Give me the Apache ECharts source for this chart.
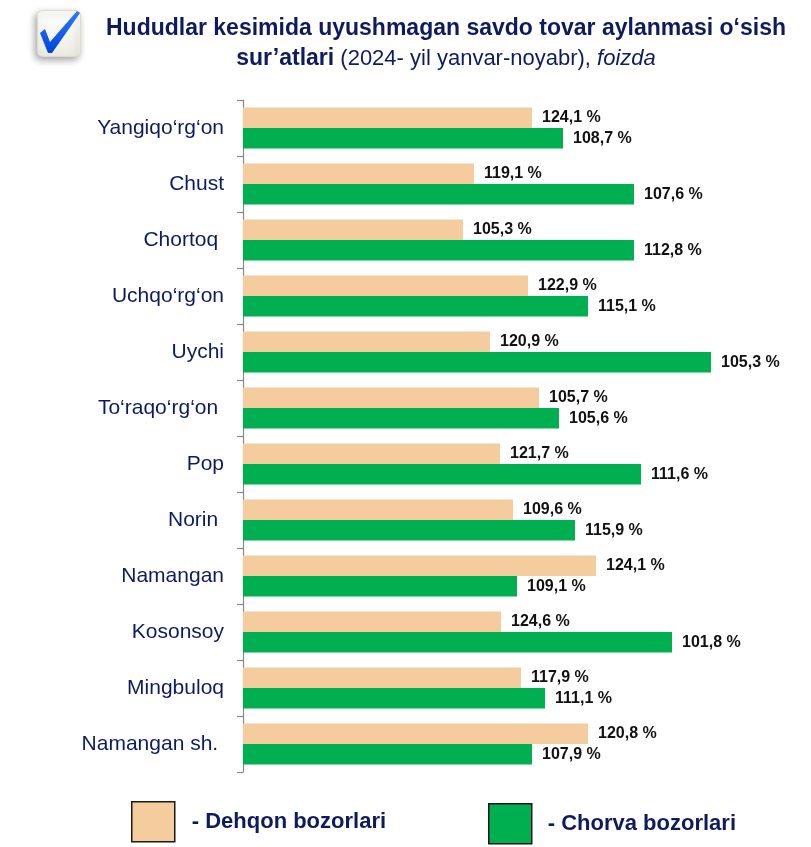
<!DOCTYPE html>
<html>
<head>
<meta charset="utf-8">
<script src="https://cdn.jsdelivr.net/npm/echarts@6/dist/echarts.min.js"></script>
<style>
html,body{margin:0;padding:0;background:#fff;}
#chart{width:811px;height:847px;}
</style>
</head>
<body>
<div id="chart"></div>
<script>
// Categories (top to bottom)
var categories = ['Yangiqo‘rg‘on', 'Chust', 'Chortoq ', 'Uchqo‘rg‘on', 'Uychi', 'To‘raqo‘rg‘on ', 'Pop', 'Norin ', 'Namangan', 'Kosonsoy', 'Mingbuloq', 'Namangan sh. '];
// Bar lengths as drawn in the picture (relative units)
var dehqonBar = [289, 231, 220, 285, 247, 296, 257, 270, 353, 258, 278, 345];
var chorvaBar = [320, 391, 391, 345, 468, 316, 398, 332, 274, 429, 302, 289];
// Growth rates shown as labels, %
var dehqonPct = [124.1, 119.1, 105.3, 122.9, 120.9, 105.7, 121.7, 109.6, 124.1, 124.6, 117.9, 120.8];
var chorvaPct = [108.7, 107.6, 112.8, 115.1, 105.3, 105.6, 111.6, 115.9, 109.1, 101.8, 111.1, 107.9];
var seriesNames = ['Dehqon bozorlari', 'Chorva bozorlari'];

var FONT = '"Liberation Sans", Arial, sans-serif';
var NAVY = '#0E1C5E';
function fmt(v) { return v.toFixed(1).replace('.', ',') + ' %'; }

var chart = echarts.init(document.getElementById('chart'));
chart.setOption({
  animation: false,
  backgroundColor: '#fff',
  title: {
    left: 446, top: 14, textAlign: 'center', padding: 0,
    text: '{b|Hududlar kesimida uyushmagan savdo tovar aylanmasi o‘sish}\n{b|sur’atlari}{n| (2024- yil yanvar-noyabr), }{i|foizda}',
    textStyle: {
      fontWeight: 'normal',
      rich: {
        b: { fontFamily: FONT, fontSize: 23, fontWeight: 'bold', color: NAVY, lineHeight: 30 },
        n: { fontFamily: FONT, fontSize: 22, fontWeight: 'normal', color: NAVY, lineHeight: 30 },
        i: { fontFamily: FONT, fontSize: 22, fontWeight: 'normal', fontStyle: 'italic', color: NAVY, lineHeight: 30 }
      }
    }
  },
  graphic: [
    {
      type: 'rect', left: 37, top: 10,
      shape: { width: 43, height: 46, r: 5 },
      style: {
        fill: new echarts.graphic.LinearGradient(0, 0, 0, 1, [
          { offset: 0, color: '#ffffff' }, { offset: 1, color: '#ececE4' }
        ]),
        stroke: '#deddc8', lineWidth: 1,
        shadowBlur: 7, shadowColor: 'rgba(0,0,0,0.35)', shadowOffsetX: -2, shadowOffsetY: 3
      }
    },
    {
      type: 'polygon',
      shape: { points: [[40, 33], [45, 29], [50, 42], [77, 11], [80, 13], [52, 53], [48, 53]] },
      style: {
        fill: new echarts.graphic.LinearGradient(0, 0, 0, 1, [
          { offset: 0, color: '#2d7bff' }, { offset: 1, color: '#0044d8' }
        ])
      }
    }
  ],
  legend: [
    {
      data: [seriesNames[0]], left: 131, top: 801, padding: 0,
      itemWidth: 43, itemHeight: 40, icon: 'rect',
      itemStyle: { borderColor: '#1a1a1a', borderWidth: 1.5 },
      formatter: '- {name}',
      textStyle: { fontFamily: FONT, fontSize: 22, fontWeight: 'bold', color: NAVY, padding: [0, 0, 0, 12] },
      selectedMode: false
    },
    {
      data: [seriesNames[1]], left: 488, top: 803, padding: 0,
      itemWidth: 43, itemHeight: 40, icon: 'rect',
      itemStyle: { borderColor: '#1a1a1a', borderWidth: 1.5 },
      formatter: '- {name}',
      textStyle: { fontFamily: FONT, fontSize: 22, fontWeight: 'bold', color: NAVY, padding: [0, 0, 0, 11] },
      selectedMode: false
    }
  ],
  grid: { left: 243, right: 28, top: 100, bottom: 75, containLabel: false },
  xAxis: { type: 'value', min: 0, max: 540, show: false },
  yAxis: {
    type: 'category', inverse: true, data: categories,
    axisLine: { show: true, lineStyle: { color: '#888', width: 1.2 } },
    axisTick: { show: true, length: 6, lineStyle: { color: '#888', width: 1.2 } },
    axisLabel: { fontFamily: FONT, fontSize: 21, color: NAVY, margin: 19 },
    splitLine: { show: false }
  },
  series: [
    {
      name: seriesNames[0], type: 'bar', data: dehqonBar,
      barWidth: 20.5, barGap: '0%',
      itemStyle: { color: '#F5CC9D' },
      label: {
        show: true, position: 'right', distance: 10,
        fontFamily: FONT, fontSize: 16, fontWeight: 'bold', color: '#111',
        formatter: function (p) { return fmt(dehqonPct[p.dataIndex]); }
      }
    },
    {
      name: seriesNames[1], type: 'bar', data: chorvaBar,
      barWidth: 20.5, barGap: '0%',
      itemStyle: { color: '#00B050' },
      label: {
        show: true, position: 'right', distance: 10,
        fontFamily: FONT, fontSize: 16, fontWeight: 'bold', color: '#111',
        formatter: function (p) { return fmt(chorvaPct[p.dataIndex]); }
      }
    }
  ]
});
</script>
</body>
</html>
